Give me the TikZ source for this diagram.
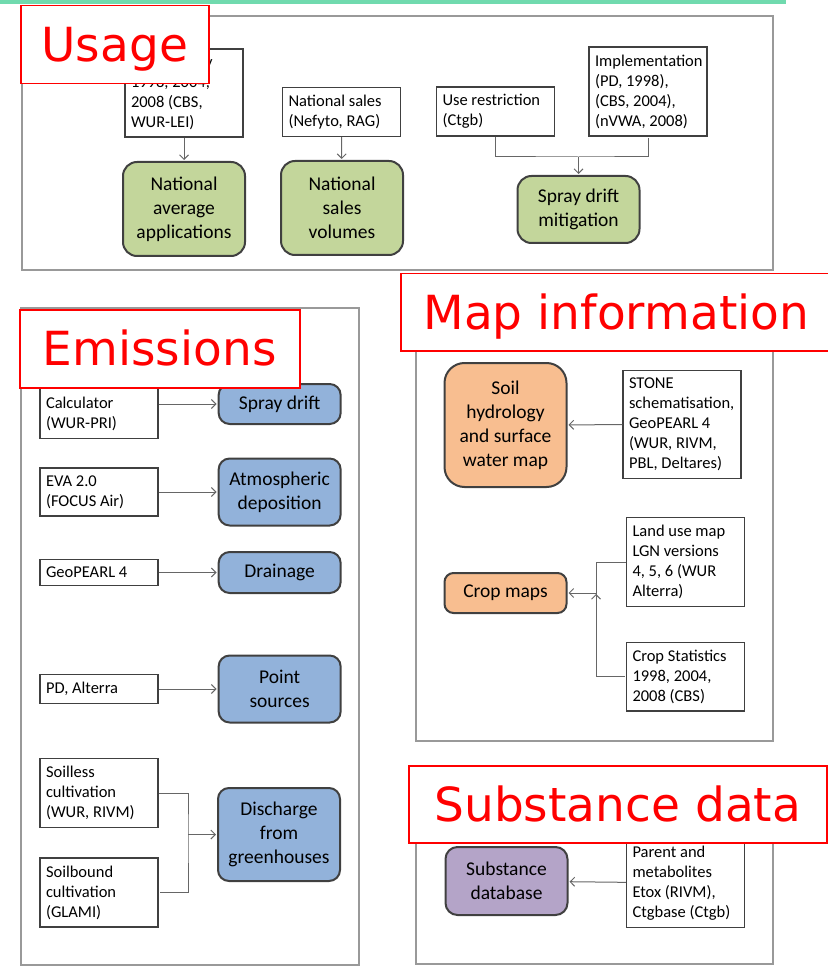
\documentclass[tikz,border=0pt]{standalone}
\usepackage{fontspec}
\setmainfont{Carlito}
\newfontfamily\titlefont{DejaVu Sans}
\usetikzlibrary{shapes,arrows,arrows.meta,positioning}
\definecolor{bandgreen}{RGB}{112,218,174}
\definecolor{usegreen}{RGB}{195,214,155}
\definecolor{emisblue}{RGB}{146,178,218}
\definecolor{maporange}{RGB}{248,190,144}
\definecolor{subspurple}{RGB}{180,164,200}
\begin{document}
\begin{tikzpicture}[x=1pt,y=-1pt,>={Straight Barb[length=4.5pt,width=9pt]},shorten >=1pt]
\tikzstyle{src} = [rectangle, draw=black!75, line width=1.3pt, fill=white, text width=106pt, align=flush left, inner xsep=6pt, inner ysep=7.5pt, font=\fontsize{16.5}{20}\selectfont]
\tikzstyle{outbox} = [rectangle, draw=black!75, line width=2pt, minimum width=122pt, text width=116pt, align=flush center, rounded corners=14pt, inner sep=2pt, font=\fontsize{19.5}{24}\selectfont]
\tikzstyle{frame} = [draw=black!40, line width=1.5pt]
\tikzstyle{title} = [rectangle, draw=red, line width=1.5pt, fill=white, text=red, anchor=north west, inner sep=0pt, text height=34pt, text depth=0pt, font=\titlefont\fontsize{47}{56}\selectfont]
\tikzstyle{link} = [draw=black!60, line width=1pt]
\useasboundingbox (0,0) rectangle (827,973);
\fill[bandgreen] (0,0) rectangle (786,4);
\draw[frame] (22,16) rectangle (773,270);
\draw[frame] (21,308) rectangle (359,965);
\draw[frame] (416,300) rectangle (773,741);
\draw[frame] (416,790) rectangle (773,964);

\node[src] (survey) at (184,93) {Farm survey\\1998, 2004,\\2008 (CBS,\\WUR-LEI)};
\node[outbox,fill=usegreen,minimum height=94pt] (natapp) at (184,209) {National\\average\\applications};
\node[src] (natsal) at (341.5,112) {National sales\\(Nefyto, RAG)};
\node[outbox,fill=usegreen,minimum height=94pt] (salesvol) at (342,208) {National\\sales\\volumes};
\node[src] (userestr) at (495.5,111.5) {Use restriction\\(Ctgb)};
\node[src] (implem) at (648,91.5) {Implementation\\(PD, 1998),\\(CBS, 2004),\\(nVWA, 2008)};
\node[outbox,fill=usegreen,minimum height=67pt] (mitig) at (578.5,209.5) {Spray drift\\mitigation};
\coordinate (mergeU) at (578.5,157);

\node[src] (driftcalc) at (99,404) {IMAG Drift\\Calculator\\(WUR-PRI)};
\node[outbox,fill=emisblue,minimum height=40pt,rounded corners=11pt] (spraydrift) [right=59pt of driftcalc] {Spray drift};
\node[src] (eva) at (99,492) {EVA 2.0\\(FOCUS Air)};
\node[outbox,fill=emisblue,minimum height=67pt,rounded corners=11pt] (atmos) [right=59pt of eva] {Atmospheric\\deposition};
\node[src] (geopearl) at (99,572.5) {GeoPEARL 4};
\node[outbox,fill=emisblue,minimum height=41pt,rounded corners=11pt] (drain) [right=59pt of geopearl] {Drainage};
\node[src] (pdalt) at (99,689) {PD, Alterra};
\node[outbox,fill=emisblue,minimum height=67pt,rounded corners=11pt] (point) [right=59pt of pdalt] {Point\\sources};
\node[src] (soilless) at (99,793) {Soilless\\cultivation\\(WUR, RIVM)};
\node[src] (soilbound) at (99,892.5) {Soilbound\\cultivation\\(GLAMI)};
\node[outbox,fill=emisblue,minimum height=93pt,rounded corners=11pt] (discharge) at (279,834.5) {Discharge\\from\\greenhouses};
\coordinate (mergeE) at (188,834.5);

\node[outbox,fill=maporange,minimum height=124pt,rounded corners=20pt] (soilhyd) at (505.5,425) {Soil\\hydrology\\and surface\\water map};
\node[src] (stone) at (682,424.5) {STONE\\schematisation,\\GeoPEARL 4\\(WUR, RIVM,\\PBL, Deltares)};
\node[outbox,fill=maporange,minimum height=40pt,rounded corners=9pt] (cropmaps) at (505.5,593) {Crop maps};
\node[src] (landuse) at (685.5,562) {Land use map\\LGN versions\\4, 5, 6 (WUR\\Alterra)};
\node[src] (cropstat) at (685.5,676.5) {Crop Statistics\\1998, 2004,\\2008 (CBS)};
\coordinate (mergeM) at (596,593);

\node[outbox,fill=subspurple,minimum height=68pt,rounded corners=12pt] (substdb) at (506.5,881) {Substance\\database};
\node[src] (parent) at (685.5,883) {Parent and\\metabolites\\Etox (RIVM),\\Ctgbase (Ctgb)};

\path[->,link] (survey) edge (natapp)
          (natsal) edge (salesvol)
          (mergeU) edge (mitig)
          (driftcalc) edge (spraydrift)
          (eva) edge (atmos)
          (geopearl) edge (drain)
          (pdalt) edge (point)
          (mergeE) edge (discharge)
          (stone) edge (soilhyd)
          (mergeM) edge (cropmaps)
          (parent) edge (substdb);
\draw[link] (userestr.south) |- (mergeU) -| (implem.south);
\draw[link] (soilless.east) -| (mergeE) |- (soilbound.east);
\draw[link] (landuse.west) -| (mergeM) |- (cropstat.west);

\node[title,minimum width=188pt,minimum height=78pt] (usage) at (20,5) {Usage};
\node[title,minimum width=280pt,minimum height=78pt] (emis) at (19,309) {Emissions};
\node[title,minimum width=431pt,minimum height=77pt] (mapinfo) at (400,273) {Map information};
\node[title,minimum width=418pt,minimum height=77pt] (substdata) at (408,765) {Substance data};
\end{tikzpicture}
\end{document}
